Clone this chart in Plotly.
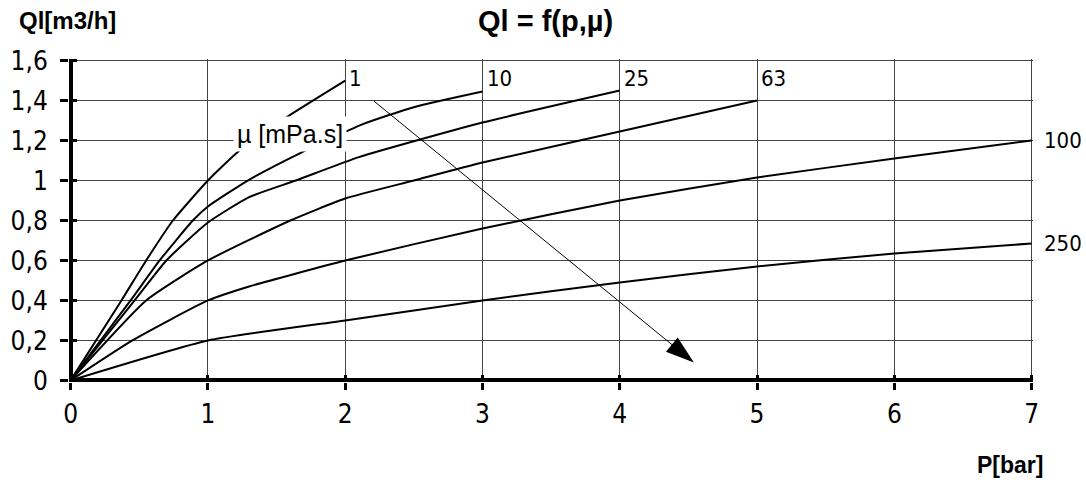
import plotly.graph_objects as go

# viscosity curves: pressure [bar] -> flow [m3/h]
VISC_LABELS = ["1", "10", "25", "63", "100", "250"]

P_1 = [0, 0.37, 0.55, 0.745, 1.0, 1.23, 1.58, 2.0]
Q_1 = [0, 0.40, 0.60, 0.80, 1.0, 1.15, 1.32, 1.50]

P_10 = [0, 0.437, 0.648, 0.89, 1.0, 1.29, 1.68, 2.12, 2.5, 3.0]
Q_10 = [0, 0.40, 0.60, 0.80, 0.87, 1.0, 1.14, 1.28, 1.367, 1.445]

P_25 = [0, 0.466, 0.697, 1.0, 1.3, 1.64, 2.1, 3.0, 4.0]
Q_25 = [0, 0.40, 0.60, 0.79, 0.917, 1.0, 1.117, 1.29, 1.45]

P_63 = [0, 0.55, 1.0, 1.6, 2.0, 2.5, 3.0, 4.0, 5.0]
Q_63 = [0, 0.40, 0.60, 0.80, 0.91, 1.0, 1.09, 1.245, 1.40]

P_100 = [0, 0.45, 1.0, 1.3, 2.0, 3.0, 4.0, 5.0, 6.0, 7.0]
Q_100 = [0, 0.20, 0.40, 0.47, 0.60, 0.76, 0.90, 1.015, 1.11, 1.20]

P_250 = [0, 1.0, 2.0, 3.0, 4.0, 5.0, 6.0, 7.0]
Q_250 = [0, 0.20, 0.30, 0.40, 0.49, 0.57, 0.635, 0.685]

CURVES = [(P_1, Q_1), (P_10, Q_10), (P_25, Q_25), (P_63, Q_63), (P_100, Q_100), (P_250, Q_250)]

# arrow "increasing viscosity"
ARROW_X = [2.21, 4.54]
ARROW_Y = [1.397, 0.089]

NARROW = "DejaVu Sans Condensed, Liberation Sans Narrow, sans-serif"
ARIAL = "Liberation Sans, Arial, sans-serif"

fig = go.Figure()

for p, q in CURVES:
    fig.add_trace(go.Scatter(x=p, y=q, mode="lines",
                             line=dict(color="black", width=2, shape="spline", smoothing=0.5),
                             hoverinfo="skip", showlegend=False))

fig.add_trace(go.Scatter(
    x=ARROW_X, y=ARROW_Y, mode="lines+markers",
    line=dict(color="black", width=1),
    marker=dict(symbol="arrow", size=[0, 30], color="black", opacity=1,
                line=dict(width=0), angleref="previous"),
    hoverinfo="skip", showlegend=False))

# dummy trace on overlay axes so the inner tick halves get drawn
fig.add_trace(go.Scatter(x=P_250, y=Q_250, xaxis="x2", yaxis="y2", mode="lines",
                         line=dict(color="rgba(0,0,0,0)"), hoverinfo="skip", showlegend=False))

# curve labels
for i, (p, q) in enumerate(CURVES):
    if p[-1] < 7:
        fig.add_annotation(x=p[-1], y=1.51, text=VISC_LABELS[i], showarrow=False,
                           xanchor="left", yanchor="middle", xshift=2,
                           font=dict(family=NARROW, size=22, color="black"))
    else:
        fig.add_annotation(x=p[-1], y=q[-1], text=VISC_LABELS[i], showarrow=False,
                           xanchor="left", yanchor="middle", xshift=10,
                           font=dict(family=NARROW, size=22, color="black"))

fig.add_annotation(x=1.595, y=1.232, text="µ [mPa.s]", showarrow=False,
                   bgcolor="white", borderpad=3,
                   font=dict(family=ARIAL, size=25, color="black"))

fig.add_annotation(xref="paper", yref="paper", x=0.494, y=1.118, text="<b>Ql = f(p,µ)</b>",
                   showarrow=False, xanchor="center", yanchor="middle",
                   font=dict(family=ARIAL, size=29, color="black"))
fig.add_annotation(xref="paper", yref="paper", x=-0.054, y=1.118, text="<b>Ql[m3/h]</b>",
                   showarrow=False, xanchor="left", yanchor="middle",
                   font=dict(family=ARIAL, size=24, color="black"))
fig.add_annotation(xref="paper", yref="paper", x=1.0124, y=-0.257, text="<b>P[bar]</b>",
                   showarrow=False, xanchor="right", yanchor="middle",
                   font=dict(family=ARIAL, size=23, color="black"))

x_range = [-0.012, 7.01]
y_range = [-0.008, 1.608]

fig.update_layout(
    width=1086, height=482,
    margin=dict(l=69, r=53, t=59, b=100),
    plot_bgcolor="white", paper_bgcolor="white",
    separators=", ",
    xaxis=dict(range=x_range, dtick=1, tick0=0, showgrid=True, gridcolor="#444", gridwidth=1,
               zeroline=True, zerolinecolor="black", zerolinewidth=4, showline=False,
               ticks="outside", ticklen=7, tickwidth=3, tickcolor="black",
               ticklabelstandoff=2, automargin=False,
               tickfont=dict(family=NARROW, size=26, color="black")),
    yaxis=dict(range=y_range, dtick=0.2, tick0=0, showgrid=True, gridcolor="#444", gridwidth=1,
               zeroline=True, zerolinecolor="black", zerolinewidth=4, showline=False,
               ticks="outside", ticklen=8, tickwidth=3, tickcolor="black",
               ticklabelstandoff=7, automargin=False,
               tickfont=dict(family=NARROW, size=26, color="black")),
    xaxis2=dict(overlaying="x", matches="x", anchor="y", side="bottom", showgrid=False,
                zeroline=False, showline=False, showticklabels=False, dtick=1, tick0=0,
                ticks="inside", ticklen=7, tickwidth=3, tickcolor="black", automargin=False),
    yaxis2=dict(overlaying="y", matches="y", anchor="x", side="left", showgrid=False,
                zeroline=False, showline=False, showticklabels=False, dtick=0.2, tick0=0,
                ticks="inside", ticklen=8, tickwidth=3, tickcolor="black", automargin=False),
)

# drop the default page margin so the figure fills the window exactly
fig.write_html("out.html", config={"displayModeBar": False},
               post_script="document.body.style.margin = '0';")
